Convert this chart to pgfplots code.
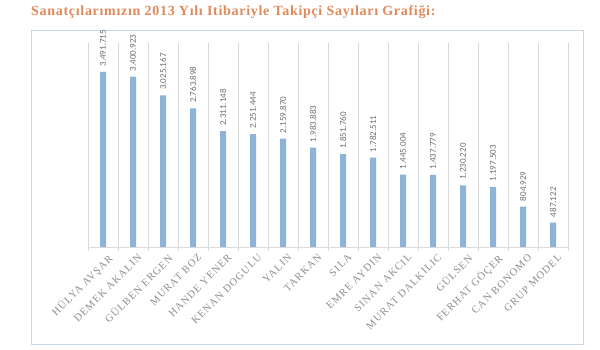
\documentclass[border=0pt]{standalone}
\usepackage{fontspec}
\setmainfont{Liberation Serif}
\newfontfamily\valfont{Carlito}
\newfontfamily\labfont[LetterSpace=10]{Liberation Serif}
\newfontfamily\titlefont[LetterSpace=5]{Liberation Serif}
\usepackage{pgfplots}
\pgfplotsset{compat=1.18}
\definecolor{barblue}{HTML}{8DB3D6}
\definecolor{framec}{HTML}{C9D8E8}
\definecolor{titleorange}{HTML}{E08A5C}
\definecolor{gridc}{HTML}{DADADA}
\definecolor{labc}{HTML}{8E8E8E}
\definecolor{valc}{HTML}{707070}
\begin{document}
\begin{tikzpicture}
\path[use as bounding box] (0pt,0pt) rectangle (600pt,350pt);
\fill[white] (0pt,0pt) rectangle (600pt,350pt);
\draw[framec, line width=1pt] (31pt,5pt) rectangle (583pt,319pt);
\node[anchor=base west, font=\titlefont\bfseries\fontsize{14}{16}\selectfont, text=titleorange, inner sep=0pt] at (31pt,334pt) {Sanatçılarımızın 2013 Yılı Itibariyle Takipçi Sayıları Grafiği:};
\begin{axis}[
  at={(88pt,103pt)}, anchor=south west,
  scale only axis, width=480pt, height=204pt,
  ymin=0, ymax=4070000,
  xmin=-0.5, xmax=15.5,
  axis line style={draw=none},
  axis x line*=bottom,
  axis y line=none,
  ytick=\empty,
  xtick=data,
  xticklabels={HÜLYA AVŞAR, DEMEK AKALIN, GÜLBEN ERGEN, MURAT BOZ, HANDE YENER, KENAN DOGULU, YALIN, TARKAN, SILA, EMRE AYDIN, SINAN AKCIL, MURAT DALKILIC, GÜLSEN, FERHAT GÖÇER, CAN BONOMO, GRUP MODEL},
  x tick label style={rotate=45, anchor=north east, font=\labfont\fontsize{10.5}{12}\selectfont, text=labc, yshift=-4pt, xshift=2pt},
  major tick length=0pt,
  minor xtick={-0.5,0.5,...,15.5},
  minor tick length=4pt,
  tick align=outside,
  minor tick style={gridc},
  xminorgrids=true,
  minor grid style={gridc, line width=0.6pt},
  ybar, bar width=6pt,
  nodes near coords,
  every node near coord/.append style={rotate=90, anchor=west, font=\valfont\fontsize{9}{10}\selectfont, text=valc, xshift=2pt},
  /pgf/number format/.cd, 1000 sep={.}, fixed, precision=0, assume math mode=true,
  clip=false,
]
\addplot[fill=barblue, draw=none] coordinates {
(0,3491715) (1,3400923) (2,3025167) (3,2763898) (4,2311148) (5,2251444) (6,2159870) (7,1983883)
(8,1851760) (9,1782511) (10,1445004) (11,1437779) (12,1230220) (13,1197503) (14,804929) (15,487122)};
\draw[gridc, line width=0.8pt] (axis cs:-0.5,0) -- (axis cs:15.5,0);
\end{axis}
\end{tikzpicture}
\end{document}
